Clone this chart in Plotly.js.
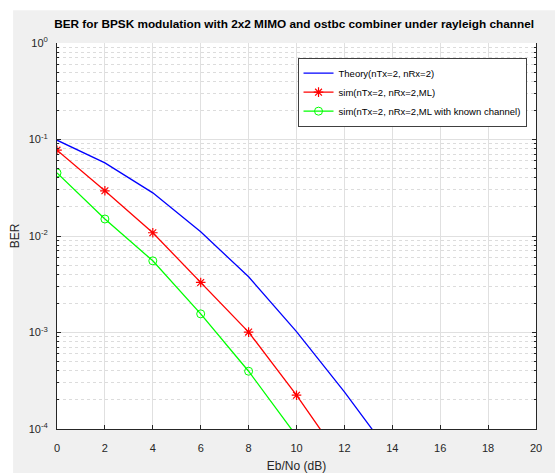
<!DOCTYPE html>
<html>
<head>
<meta charset="utf-8">
<script src="https://cdn.plot.ly/plotly-3.0.1.min.js"></script>
<style>html,body{margin:0;padding:0;background:#fff;}#chart{width:555px;height:473px;}</style>
</head>
<body>
<div id="chart"></div>
<script>
const ebno = [0, 2, 4, 6, 8, 10, 12, 14, 16, 18, 20];
const berTheory = [0.0984, 0.0573, 0.0280, 0.01105, 0.00378, 0.00102, 0.000242, 0.000052, 0.0000095, 0.0000016, 0.00000025];
const berSimML = [0.0775, 0.0294, 0.0108, 0.0033, 0.00101, 0.000224, 0.000045, 0.0000085, 0.0000015, 0.00000025, 0.00000004];
const berSimKnown = [0.0451, 0.0150, 0.00553, 0.00156, 0.000397, 0.000088, 0.000018, 0.0000034, 0.0000006, 0.0000001, 0.00000002];
const names = ['Theory(nTx=2, nRx=2)', 'sim(nTx=2, nRx=2,ML)', 'sim(nTx=2, nRx=2,ML with known channel)'];
const xTicks = [0, 2, 4, 6, 8, 10, 12, 14, 16, 18, 20];
const yTickVals = [1e-4, 1e-3, 1e-2, 1e-1, 1];
const yTickText = ['10<sup>-4</sup>', '10<sup>-3</sup>', '10<sup>-2</sup>', '10<sup>-1</sup>', '10<sup>0</sup>'];

const FONT = '"Liberation Sans", Arial, Helvetica, sans-serif';

const traces = [
  {x: ebno, y: berTheory, name: names[0], mode: 'lines', line: {color: '#0000ff', width: 1.3}},
  {x: ebno, y: berSimML, name: names[1], mode: 'lines+markers', line: {color: '#ff0000', width: 1.3},
   marker: {symbol: 'asterisk-open', size: 8, color: '#ff0000', line: {color: '#ff0000', width: 1.2}}},
  {x: ebno, y: berSimKnown, name: names[2], mode: 'lines+markers', line: {color: '#00ff00', width: 1.3},
   marker: {symbol: 'circle-open', size: 8, color: '#00ff00', line: {color: '#00ff00', width: 1}}}
];

const layout = {
  width: 555, height: 473,
  paper_bgcolor: '#f0f0f0', plot_bgcolor: '#ffffff',
  margin: {l: 56.5, r: 18.5, t: 42.7, b: 44, pad: 0, autoexpand: false},
  font: {family: FONT, color: '#262626', size: 11},
  title: {text: 'BER for BPSK modulation with 2x2 MIMO and ostbc combiner under rayleigh channel',
          font: {family: FONT, size: 11.8, color: '#000000', weight: 'bold'},
          x: 0.495, xref: 'paper', xanchor: 'center', y: 1 - 24 / 473, yref: 'container', yanchor: 'middle'},
  xaxis: {
    range: [0, 20], tickvals: xTicks, ticktext: xTicks.map(String),
    showgrid: true, gridcolor: '#e0e0e0', gridwidth: 1,
    showline: true, linecolor: '#262626', linewidth: 1, mirror: false,
    ticks: 'inside', ticklen: 4, tickcolor: '#262626', ticklabelstandoff: 9,
    tickfont: {family: FONT, size: 11, color: '#262626'},
    zeroline: false,
    title: {text: 'Eb/No (dB)', font: {family: FONT, size: 12, color: '#262626'}, standoff: 12}
  },
  yaxis: {
    type: 'log', range: [-4, 0], tickmode: 'array', tickvals: yTickVals, ticktext: yTickText,
    showgrid: true, gridcolor: '#e0e0e0', gridwidth: 1,
    showline: true, linecolor: '#262626', linewidth: 1, mirror: 'ticks',
    ticks: 'inside', ticklen: 4, tickcolor: '#262626', ticklabelstandoff: 6,
    tickfont: {family: FONT, size: 11, color: '#262626'},
    minor: {dtick: 'D1', showgrid: true, gridcolor: '#dcdcdc', griddash: 'dot', ticks: 'inside', ticklen: 2, tickcolor: '#262626'},
    zeroline: false,
    title: {text: 'BER', font: {family: FONT, size: 12, color: '#262626'}, standoff: 6}
  },
  showlegend: true,
  legend: {
    x: (527 - 56.5) / 480, y: 0.962, xanchor: 'right', yanchor: 'top',
    bgcolor: '#ffffff', bordercolor: '#404040', borderwidth: 1,
    font: {family: FONT, size: 9.5, color: '#000000'},
    tracegroupgap: 0, itemwidth: 30
  },
  shapes: [
    {type: 'rect', xref: 'paper', yref: 'paper', x0: -0.2, x1: 1.2, y0: (429 - 10) / 386.3, y1: 1.3,
     fillcolor: '#ffffff', line: {width: 0}, layer: 'below'},
    {type: 'rect', xref: 'paper', yref: 'paper', x0: -0.2, x1: (12.5 - 56.5) / 480, y0: -0.2, y1: 1.3,
     fillcolor: '#ffffff', line: {width: 0}, layer: 'below'}
  ]
};

Plotly.newPlot('chart', traces, layout, {displayModeBar: false, staticPlot: true});
</script>
</body>
</html>
